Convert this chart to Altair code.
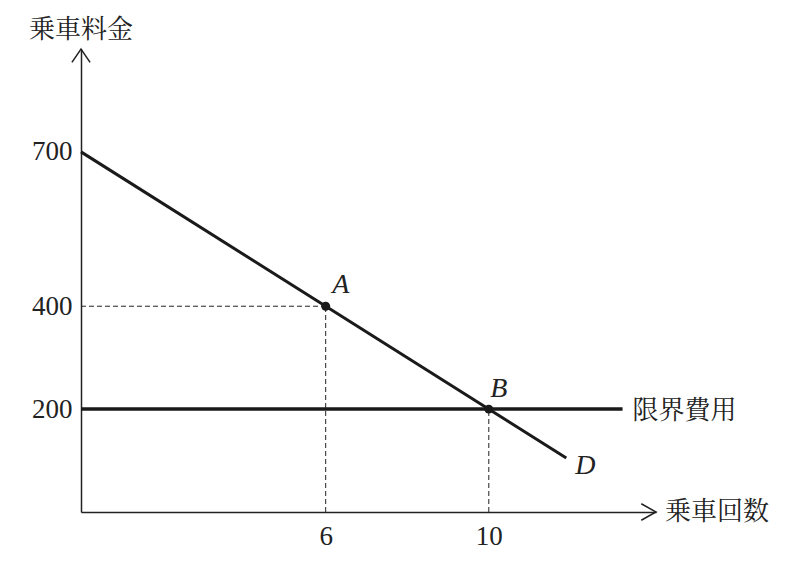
import altair as alt
import pandas as pd

# ---- data ----
demand_q = [0, 11.9]
demand_p = [700, 105]
mc_q = [0, 13.28]
mc_p = [200, 200]
pts_name = ["A", "B"]
pts_q = [6, 10]
pts_p = [400, 200]
x_ticks = [6, 10]
y_ticks = [200, 400, 700]
x_max = 14.1
y_max = 900
y_title = "乗車料金"
x_title = "乗車回数"
mc_label = "限界費用"
demand_label = "D"

SERIF = "Liberation Serif"
CJK = "Noto Serif CJK JP, Noto Sans CJK JP"

xs = alt.Scale(domain=[0, x_max], nice=False, zero=False)
ys = alt.Scale(domain=[0, y_max], nice=False, zero=False)
xa = alt.Axis(values=x_ticks, title=None, grid=False, ticks=False, domain=True,
              domainColor="#222", domainWidth=1.5, labelFont=SERIF, labelFontSize=27,
              labelColor="#222", labelPadding=11, labelFlush=False)
ya = alt.Axis(values=y_ticks, title=None, grid=False, ticks=False, domain=True,
              domainColor="#222", domainWidth=1.5, labelFont=SERIF, labelFontSize=27,
              labelColor="#222", labelPadding=9, labelFlush=False)


def X(f):
    return alt.X(f, type="quantitative", scale=xs, axis=xa)


def Y(f):
    return alt.Y(f, type="quantitative", scale=ys, axis=ya)


demand = pd.DataFrame({"q": demand_q, "p": demand_p})
mc = pd.DataFrame({"q": mc_q, "p": mc_p})
pts = pd.DataFrame({"q": pts_q, "p": pts_p, "name": pts_name})
# dashed guides from each point down to the x axis, and from A to the y axis
guides_v = pd.DataFrame({"q": pts_q, "p0": [0, 0], "p1": pts_p})
guides_h = pd.DataFrame({"q0": [0], "q1": [pts_q[0]], "p": [pts_p[0]]})

demand_end = pd.DataFrame({"q": [demand_q[-1]], "p": [demand_p[-1]], "t": [demand_label]})
mc_end = pd.DataFrame({"q": [mc_q[-1]], "p": [mc_p[-1]], "t": [mc_label]})
x_end = pd.DataFrame({"q": [x_max], "p": [0], "t": [x_title]})
y_end = pd.DataFrame({"q": [0], "p": [y_max], "t": [y_title]})

base_axes = alt.Chart(demand).mark_line(color="#1a1a1a", strokeWidth=3).encode(x=X("q"), y=Y("p"))

mc_line = alt.Chart(mc).mark_line(color="#1a1a1a", strokeWidth=3.5).encode(x=X("q"), y=Y("p"))

vguides = alt.Chart(guides_v).mark_rule(color="#222", strokeWidth=1, strokeDash=[5, 3]).encode(
    x=X("q"), y=Y("p0"), y2="p1")
hguides = alt.Chart(guides_h).mark_rule(color="#222", strokeWidth=1, strokeDash=[5, 3]).encode(
    x=X("q0"), x2="q1", y=Y("p"))

dots = alt.Chart(pts).mark_circle(color="#1a1a1a", size=80, opacity=1).encode(x=X("q"), y=Y("p"))

lab_a = alt.Chart(pts.iloc[[0]]).mark_text(font=SERIF, fontStyle="italic", fontSize=28,
                                           color="#222", dx=15, dy=-21).encode(
    x=X("q"), y=Y("p"), text="name:N")
lab_b = alt.Chart(pts.iloc[[1]]).mark_text(font=SERIF, fontStyle="italic", fontSize=28,
                                           color="#222", dx=10, dy=-20).encode(
    x=X("q"), y=Y("p"), text="name:N")
lab_d = alt.Chart(demand_end).mark_text(font=SERIF, fontStyle="italic", fontSize=28,
                                        color="#222", dx=19, dy=8).encode(
    x=X("q"), y=Y("p"), text="t:N")
lab_mc = alt.Chart(mc_end).mark_text(font=CJK, fontSize=26, color="#222", align="left",
                                     dx=10, dy=2).encode(x=X("q"), y=Y("p"), text="t:N")
lab_x = alt.Chart(x_end).mark_text(font=CJK, fontSize=26, color="#222", align="left",
                                   dx=9, dy=0).encode(x=X("q"), y=Y("p"), text="t:N")
lab_y = alt.Chart(y_end).mark_text(font=CJK, fontSize=26, color="#222", align="center",
                                   dy=-19).encode(x=X("q"), y=Y("p"), text="t:N")

arrow_x = alt.Chart(x_end).mark_point(shape="M-1.7,-0.95L0,0L-1.7,0.95", size=300, filled=False,
                                      color="#222", strokeWidth=1.5, opacity=1).encode(
    x=X("q"), y=Y("p"))
arrow_y = alt.Chart(y_end).mark_point(shape="M-1.05,1.55L0,0L1.05,1.55", size=300, filled=False,
                                      color="#222", strokeWidth=1.5, opacity=1).encode(
    x=X("q"), y=Y("p"))

chart = alt.layer(
    base_axes, mc_line, vguides, hguides, dots, lab_a, lab_b, lab_d, lab_mc, lab_x, lab_y,
    arrow_x, arrow_y,
).properties(
    width=575, height=463,
    autosize=alt.AutoSizeParams(type="none"),
    padding={"left": 73, "top": 41, "right": 130, "bottom": 45},
    background="white",
).configure_view(stroke=None)

chart.save("out.html", embed_options={"renderer": "svg", "actions": False})
